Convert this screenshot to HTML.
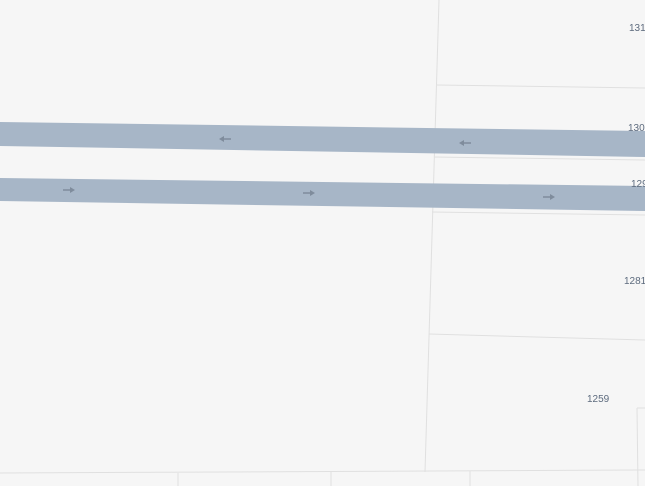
<!DOCTYPE html>
<html><head><meta charset="utf-8"><style>
html,body{margin:0;padding:0;background:#f6f6f6;width:645px;height:486px;overflow:hidden}
svg{display:block}
text{font-family:"Liberation Sans",sans-serif;font-size:10px;fill:#5d6b7e}
</style></head><body>
<svg width="645" height="486" viewBox="0 0 645 486">
<rect width="645" height="486" fill="#f6f6f6"/>
<g stroke="#e0e0e0" stroke-width="1" fill="none">
<line x1="439" y1="0" x2="425" y2="472"/>
<line x1="437" y1="85" x2="645" y2="88"/>
<line x1="434" y1="157" x2="645" y2="160"/>
<line x1="432" y1="212" x2="645" y2="215"/>
<line x1="429" y1="334" x2="645" y2="340"/>
<line x1="0" y1="473" x2="645" y2="470"/>
<line x1="637" y1="408" x2="638" y2="486"/>
<line x1="645" y1="408" x2="637" y2="408"/>
<line x1="178" y1="473" x2="178" y2="486"/>
<line x1="331" y1="472" x2="331" y2="486"/>
<line x1="470" y1="471" x2="470" y2="486"/>
</g>
<polygon points="0,122 645,131 645,157 0,146" fill="#a7b6c7"/>
<polygon points="0,178 645,186 645,211 0,201" fill="#a7b6c7"/>
<g fill="#7f8c9c" stroke="#7f8c9c" stroke-width="1.5">
<g><line x1="222" y1="139" x2="231" y2="139"/><polygon points="219,139 224,136 224,142" stroke="none"/></g>
<g><line x1="462" y1="143" x2="471" y2="143"/><polygon points="459,143 464,140 464,146" stroke="none"/></g>
<g><line x1="63" y1="190" x2="72" y2="190"/><polygon points="75,190 70,187 70,193" stroke="none"/></g>
<g><line x1="303" y1="193" x2="312" y2="193"/><polygon points="315,193 310,190 310,196" stroke="none"/></g>
<g><line x1="543" y1="197" x2="552" y2="197"/><polygon points="555,197 550,194 550,200" stroke="none"/></g>
</g>
<text x="629" y="31">131</text>
<text x="628" y="131">130</text>
<text x="631" y="187">129</text>
<text x="624" y="284">1281</text>
<text x="587" y="402">1259</text>
</svg>
</body></html>
